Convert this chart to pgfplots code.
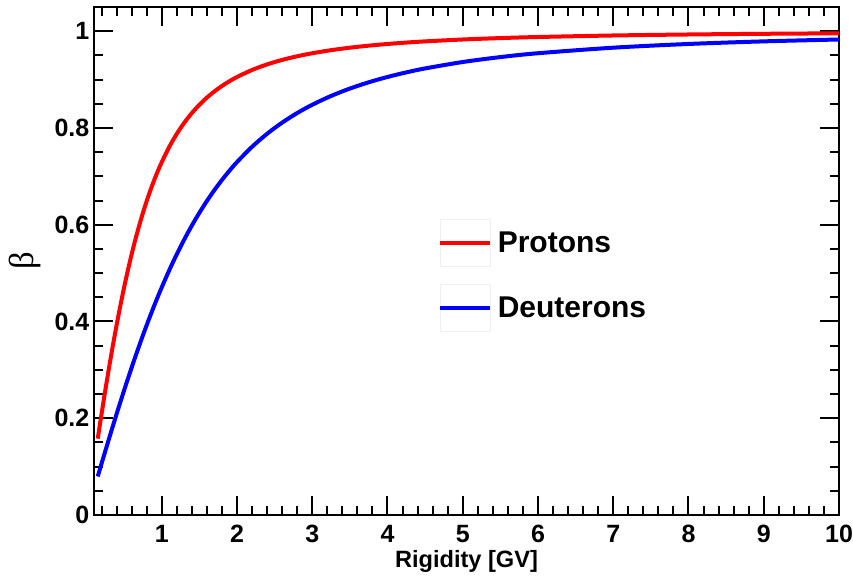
\documentclass[border=0pt]{standalone}
\usepackage{fontspec}
\setmainfont{Liberation Sans}
\newfontfamily\betafont{Liberation Serif}
\usepackage{pgfplots}
\pgfplotsset{compat=1.18}
\begin{document}
\begin{tikzpicture}
\begin{axis}[name=ax, scale only axis, width=558.75pt, height=381pt,
  xmin=0.1, xmax=10, ymin=0, ymax=1.05,
  xtick={1,2,3,4,5,6,7,8,9,10},
  minor xtick={0.2,0.4,0.6,0.8,1.2,1.4,1.6,1.8,2.2,2.4,2.6,2.8,3.2,3.4,3.6,3.8,4.2,4.4,4.6,4.8,5.2,5.4,5.6,5.8,6.2,6.4,6.6,6.8,7.2,7.4,7.6,7.8,8.2,8.4,8.6,8.8,9.2,9.4,9.6,9.8},
  ytick={0,0.2,0.4,0.6,0.8,1},
  minor ytick={0.05,0.1,0.15,0.25,0.3,0.35,0.45,0.5,0.55,0.65,0.7,0.75,0.85,0.9,0.95},
  tick align=inside, major tick length=14pt, minor tick length=7pt,
  axis line style={line width=2.2pt},
  tick style={black, line width=1.5pt},
  /pgf/number format/assume math mode=true,
  ticklabel style={font=\fontsize{18.75pt}{22pt}\selectfont\bfseries},
  xticklabel style={yshift=-4pt},
  xlabel={Rigidity [GV]},
  every axis x label/.style={at={(rel axis cs:0.5,0)}, anchor=center, yshift=-35pt, font=\fontsize{17.7pt}{20pt}\selectfont\bfseries},
  ylabel={\betafont β},
  every axis y label/.style={at={(rel axis cs:0,0.5)}, anchor=center, xshift=-52pt, rotate=90, font=\fontsize{26pt}{30pt}\selectfont},
  legend style={at={(rel axis cs:0.462,0.583)}, anchor=north west, draw=none, fill=none,
    font=\fontsize{22.5pt}{27pt}\selectfont\bfseries, row sep=13pt, column sep=4pt, inner sep=0pt,
    nodes={inner sep=0pt}},
  legend cell align=left,
  legend image code/.code={
    \draw[black!6, line width=0.8pt] (0pt,-17.5pt) rectangle (37.5pt,17.5pt);
    \draw[#1] (0pt,0pt) -- (37.5pt,0pt);
  },
]
\addplot[red, line width=3pt, smooth] coordinates {
(0.15,0.15786) (0.2,0.20847) (0.25,0.25747) (0.3,0.30455) (0.35,0.34950)
(0.4,0.39216) (0.45,0.43244) (0.5,0.47029) (0.55,0.50570) (0.6,0.53874)
(0.65,0.56946) (0.7,0.59797) (0.75,0.62438) (0.8,0.64881) (0.85,0.67138)
(0.9,0.69223) (0.95,0.71149) (1.0,0.72926) (1.1,0.76082) (1.2,0.78778)
(1.3,0.81086) (1.4,0.83070) (1.5,0.84780) (1.6,0.86262) (1.7,0.87550)
(1.8,0.88676) (1.9,0.89664) (2.0,0.90533) (2.2,0.91984) (2.4,0.93136)
(2.6,0.94063) (2.8,0.94818) (3.0,0.95441) (3.25,0.96076) (3.5,0.96590)
(3.75,0.97009) (4.0,0.97357) (4.25,0.97649) (4.5,0.97894) (5.0,0.98285)
(5.5,0.98576) (6.0,0.98799) (7.0,0.99113) (8.0,0.99319) (9.0,0.99461)
(10.0,0.99563)
};
\addlegendentry{Protons}
\addplot[blue, line width=3pt, smooth] coordinates {
(0.15,0.07972) (0.2,0.10603) (0.25,0.13212) (0.3,0.15794) (0.35,0.18344)
(0.4,0.20857) (0.45,0.23330) (0.5,0.25759) (0.55,0.28139) (0.6,0.30469)
(0.65,0.32745) (0.7,0.34965) (0.75,0.37129) (0.8,0.39233) (0.85,0.41278)
(0.9,0.43262) (0.95,0.45185) (1.0,0.47047) (1.1,0.50589) (1.2,0.53893)
(1.3,0.56966) (1.4,0.59817) (1.5,0.62457) (1.6,0.64900) (1.7,0.67157)
(1.8,0.69241) (1.9,0.71166) (2.0,0.72943) (2.2,0.76098) (2.4,0.78793)
(2.6,0.81100) (2.8,0.83082) (3.0,0.84792) (3.25,0.86612) (3.5,0.88141)
(3.75,0.89437) (4.0,0.90540) (4.25,0.91487) (4.5,0.92303) (5.0,0.93630)
(5.5,0.94648) (6.0,0.95445) (7.0,0.96592) (8.0,0.97360) (9.0,0.97897)
(10.0,0.98286)
};
\addlegendentry{Deuterons}
\end{axis}
\pgfresetboundingbox
\path (ax.south west) ++(-70.5pt,-45.75pt) coordinate (a);
\path (ax.north east) ++(10.5pt,5.25pt) coordinate (b);
\path (a) rectangle (b);
\end{tikzpicture}
\end{document}
